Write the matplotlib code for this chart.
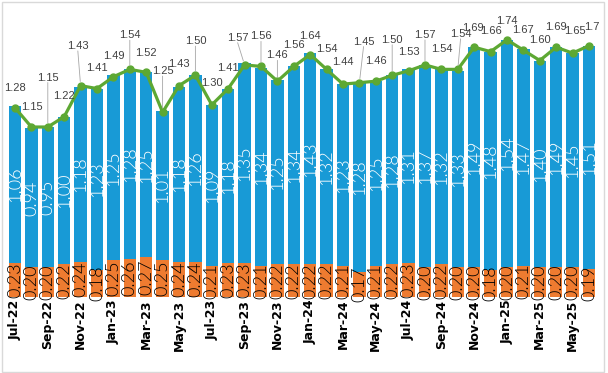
import matplotlib.pyplot as plt
import numpy as np

months = ['Jul-22', 'Aug-22', 'Sep-22', 'Oct-22', 'Nov-22', 'Dec-22',
          'Jan-23', 'Feb-23', 'Mar-23', 'Apr-23', 'May-23', 'Jun-23',
          'Jul-23', 'Aug-23', 'Sep-23', 'Oct-23', 'Nov-23', 'Dec-23',
          'Jan-24', 'Feb-24', 'Mar-24', 'Apr-24', 'May-24', 'Jun-24',
          'Jul-24', 'Aug-24', 'Sep-24', 'Oct-24', 'Nov-24', 'Dec-24',
          'Jan-25', 'Feb-25', 'Mar-25', 'Apr-25', 'May-25', 'Jun-25']

base_vals = [0.23, 0.20, 0.20, 0.22, 0.24, 0.18, 0.25, 0.26, 0.27, 0.25, 0.24, 0.24,
             0.21, 0.23, 0.23, 0.21, 0.22, 0.22, 0.22, 0.22, 0.21, 0.17, 0.21, 0.22,
             0.23, 0.20, 0.22, 0.20, 0.20, 0.18, 0.20, 0.21, 0.20, 0.20, 0.20, 0.19]

top_vals = [1.06, 0.94, 0.95, 1.00, 1.18, 1.23, 1.25, 1.28, 1.25, 1.01, 1.18, 1.26,
            1.09, 1.18, 1.35, 1.34, 1.25, 1.34, 1.43, 1.32, 1.23, 1.28, 1.25, 1.28,
            1.31, 1.37, 1.32, 1.33, 1.49, 1.48, 1.54, 1.47, 1.40, 1.49, 1.45, 1.51]

totals = [1.28, 1.15, 1.15, 1.22, 1.43, 1.41, 1.49, 1.54, 1.52, 1.25, 1.43, 1.50,
          1.30, 1.41, 1.57, 1.56, 1.46, 1.56, 1.64, 1.54, 1.44, 1.45, 1.46, 1.50,
          1.53, 1.57, 1.54, 1.54, 1.69, 1.66, 1.74, 1.67, 1.60, 1.69, 1.65, 1.70]

total_labels = ['%.2f' % v for v in totals]
total_labels[-1] = '1.7'

# label placement (points above marker, x shift); larger lifts get a leader line
lift = [11, 11, 32, 11, 25, 11, 11, 21, 10, 26, 12, 21,
        12, 11, 16, 18, 15, 12, 10, 11, 12, 26, 11, 22,
        10, 18, 11, 22, 10, 11, 10, 11, 11, 11, 12, 10]
shift = [0] * 36
shift[4] = -2
shift[14] = -5
shift[21] = 3
shift[27] = 2
shift[28] = -1
shift[34] = 2
shift[35] = 2

BLUE = '#189AD6'
ORANGE = '#EE7B30'
GREEN = '#5DA833'

fig = plt.figure(figsize=(6.08, 3.73), dpi=100)
ax = fig.add_axes([0.0112, 0.2038, 0.971, 0.7925])

x = np.arange(len(months))
ax.bar(x, base_vals, width=0.76, color=ORANGE, zorder=2)
ax.bar(x, top_vals, width=0.76, bottom=base_vals, color=BLUE, zorder=2)

for i in range(len(x)):
    ax.text(x[i], base_vals[i] / 2, '%.2f' % base_vals[i], rotation=90, ha='center', va='center',
            fontsize=13, color='black', family='Lato', fontweight=300, zorder=3)
    ax.text(x[i], base_vals[i] + top_vals[i] / 2, '%.2f' % top_vals[i], rotation=90, ha='center',
            va='center', fontsize=13, color='white', family='Lato', fontweight=300, zorder=3)

ax.plot(x, totals, color=GREEN, lw=2.3, marker='o', markersize=5, zorder=4)

for i in range(len(x)):
    ax.annotate(total_labels[i], (x[i], totals[i]), xytext=(shift[i], lift[i]), textcoords='offset points',
                ha='center', va='bottom', fontsize=8, color='#404040', family='Liberation Sans', zorder=5)
    if lift[i] > 14:
        ax.annotate('', (x[i], totals[i]), xytext=(shift[i], lift[i]), textcoords='offset points',
                    arrowprops=dict(arrowstyle='-', color='#A6A6A6', lw=0.6, shrinkA=0, shrinkB=3), zorder=5)

ax.set_xlim(-0.5, len(x) - 0.5)
ax.set_ylim(0, 2.0)
ax.set_xticks(x[::2])
ax.set_xticklabels(months[::2], rotation=90, fontsize=9, fontweight='bold')
ax.tick_params(axis='x', length=0, pad=2)
ax.set_yticks([])
for s in ax.spines.values():
    s.set_visible(False)

fig.add_artist(plt.Rectangle((0.003, 0.004), 0.99, 0.99, transform=fig.transFigure, fill=False,
                             edgecolor='#D9D9D9', lw=1))

plt.savefig('out.png', dpi=100)
